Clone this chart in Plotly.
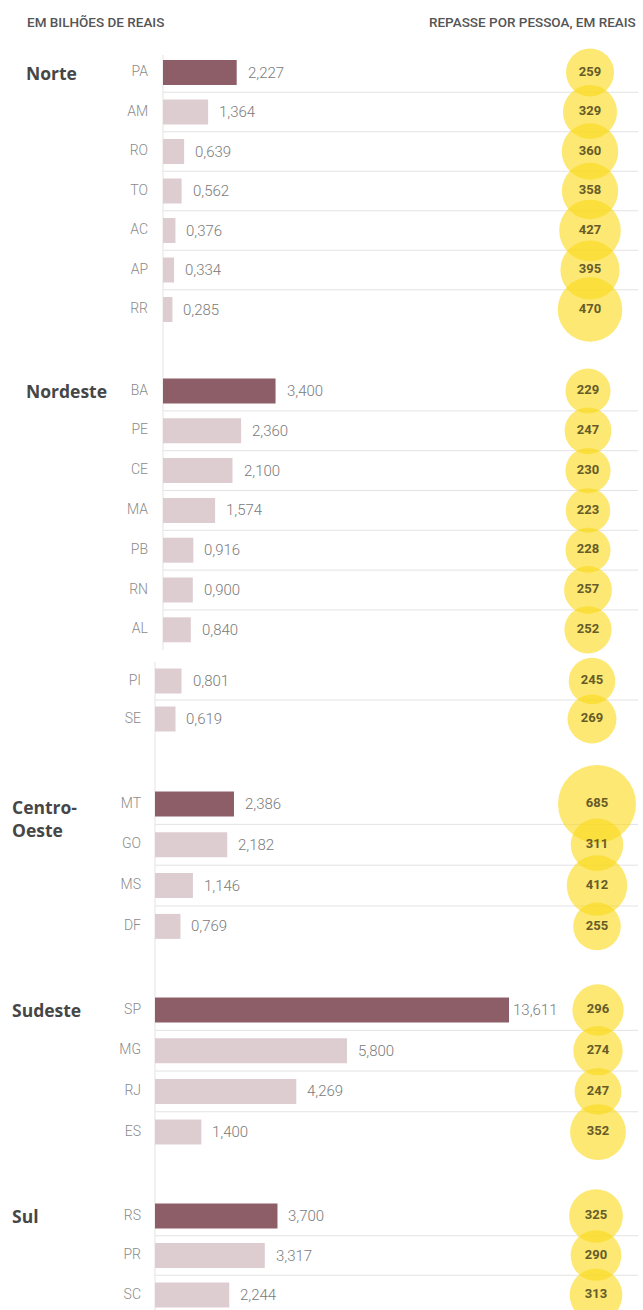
import plotly.graph_objects as go

W, H = 643, 1310

# ---- data -------------------------------------------------------------
regions = ["Norte", "Nordeste", "", "Centro-<br>Oeste", "Sudeste", "Sul"]
states = [
    ["PA", "AM", "RO", "TO", "AC", "AP", "RR"],
    ["BA", "PE", "CE", "MA", "PB", "RN", "AL"],
    ["PI", "SE"],
    ["MT", "GO", "MS", "DF"],
    ["SP", "MG", "RJ", "ES"],
    ["RS", "PR", "SC"],
]
# transfers, in billions of reais
repasse = [
    [2.227, 1.364, 0.639, 0.562, 0.376, 0.334, 0.285],
    [3.400, 2.360, 2.100, 1.574, 0.916, 0.900, 0.840],
    [0.801, 0.619],
    [2.386, 2.182, 1.146, 0.769],
    [13.611, 5.800, 4.269, 1.400],
    [3.700, 3.317, 2.244],
]
# transfer per inhabitant, in reais
por_pessoa = [
    [259, 329, 360, 358, 427, 395, 470],
    [229, 247, 230, 223, 228, 257, 252],
    [245, 269],
    [685, 311, 412, 255],
    [296, 274, 247, 352],
    [325, 290, 313],
]

# ---- layout of the blocks (pixels) -----------------------------------
block_top = [72.5, 391, 681, 804, 1010, 1216]
block_step = [39.5, 39.8, 38, 40.8, 40.7, 39.5]
block_axis = ["x", "x", "x2", "x2", "x2", "x2"]
block_base = [163, 163, 155, 155, 155, 155]
block_code_right = [148, 148, 141, 141, 141, 141]
block_region_x = [24, 24, 10, 10, 10, 10]
block_bubble_x = [590, 588, 592, 597, 598, 596]

BAR_END = 509          # right edge of the bar area
PX_PER_UNIT = 33.1     # bar scale

DARK = "#8d5e68"
LIGHT = "#ddcdd1"
YELLOW = "rgba(250,218,28,0.88)"
GRID = "#e3e3e3"
FONT = "Roboto"

fmt = lambda v: f"{v:.3f}".replace(".", ",")

fig = go.Figure()
annotations = []
shapes = []

bub_x, bub_y, bub_v = [], [], []
code_x, code_y, code_t = [], [], []

for b, codes in enumerate(states):
    ys = [block_top[b] + i * block_step[b] for i in range(len(codes))]
    vals = repasse[b]
    colors = [DARK if (i == 0 and regions[b]) else LIGHT for i in range(len(codes))]
    fig.add_trace(go.Bar(
        x=vals, y=ys, orientation="h", width=25,
        marker=dict(color=colors, line=dict(width=0)),
        xaxis=block_axis[b], yaxis="y", hoverinfo="skip", showlegend=False,
    ))
    axis_max = (BAR_END - block_base[b]) / PX_PER_UNIT
    for v, yv in zip(vals, ys):
        clipped = v > axis_max
        annotations.append(dict(
            x=min(v, axis_max), y=yv, xref=block_axis[b], yref="y",
            text=fmt(v), showarrow=False, xanchor="left", yanchor="middle",
            xshift=2 if clipped else 9,
            font=dict(family=FONT, size=15, color="#7a7a7a", weight=300),
        ))
    # separators between rows of a block
    for i in range(len(ys) - 1):
        ym = (ys[i] + ys[i + 1]) / 2
        shapes.append(dict(type="line", xref="paper", yref="y",
                           x0=block_base[b] / W, x1=638 / W, y0=ym, y1=ym,
                           line=dict(color=GRID, width=1), layer="below"))
    if regions[b]:
        two_lines = "<br>" in regions[b]
        annotations.append(dict(
            x=block_region_x[b] / W, y=ys[0] - (11 if two_lines else 0),
            xref="paper", yref="y", text=f"<b>{regions[b]}</b>",
            showarrow=False, xanchor="left",
            yanchor="top" if two_lines else "middle",
            align="left",
            font=dict(family="Open Sans", size=17.5, color="#464646"),
        ))
    code_x += [block_code_right[b]] * len(codes)
    code_y += ys
    code_t += codes
    bub_x += [block_bubble_x[b]] * len(codes)
    bub_y += ys
    bub_v += por_pessoa[b]

# state codes
fig.add_trace(go.Scatter(
    x=code_x, y=code_y, text=code_t, mode="text", textposition="middle left",
    textfont=dict(family=FONT, size=14, color="#8a8a8a", weight=300),
    xaxis="x3", yaxis="y", hoverinfo="skip", showlegend=False,
))

# per-person bubbles, area proportional to value
fig.add_trace(go.Scatter(
    x=bub_x, y=bub_y, mode="markers+text", text=[str(v) for v in bub_v],
    textposition="middle center",
    marker=dict(size=bub_v, sizemode="area", sizeref=259 / 1150,
                color=YELLOW, line=dict(width=0)),
    textfont=dict(family=FONT, size=13, color="#675b28", weight="bold"),
    xaxis="x3", yaxis="y", hoverinfo="skip", showlegend=False,
))

# vertical baselines
shapes.append(dict(type="line", xref="paper", yref="y", x0=163 / W, x1=163 / W,
                   y0=55, y1=650, line=dict(color=GRID, width=1), layer="below"))
shapes.append(dict(type="line", xref="paper", yref="y", x0=155 / W, x1=155 / W,
                   y0=662, y1=H, line=dict(color=GRID, width=1), layer="below"))

# column headers
annotations.append(dict(x=25 / W, y=22, xref="paper", yref="y",
                        text="EM BILHÕES DE REAIS", showarrow=False,
                        xanchor="left", yanchor="middle",
                        font=dict(family=FONT, size=13.5, color="#555", weight=500)))
annotations.append(dict(x=638 / W, y=22, xref="paper", yref="y",
                        text="REPASSE POR PESSOA, EM REAIS", showarrow=False,
                        xanchor="right", yanchor="middle",
                        font=dict(family=FONT, size=13.5, color="#555", weight=500)))

hidden = dict(visible=False, showgrid=False, zeroline=False, fixedrange=True)
fig.update_layout(
    width=W, height=H, margin=dict(l=0, r=0, t=0, b=0),
    paper_bgcolor="white", plot_bgcolor="rgba(0,0,0,0)",
    barmode="overlay",
    xaxis=dict(domain=[163 / W, BAR_END / W],
               range=[0, (BAR_END - 163) / PX_PER_UNIT], anchor="y", **hidden),
    xaxis2=dict(domain=[155 / W, BAR_END / W],
                range=[0, (BAR_END - 155) / PX_PER_UNIT], anchor="y", **hidden),
    xaxis3=dict(domain=[0, 1], range=[0, W], anchor="y", **hidden),
    yaxis=dict(domain=[0, 1], range=[H, 0], **hidden),
    annotations=annotations, shapes=shapes,
)

fig.write_html("out.html")
